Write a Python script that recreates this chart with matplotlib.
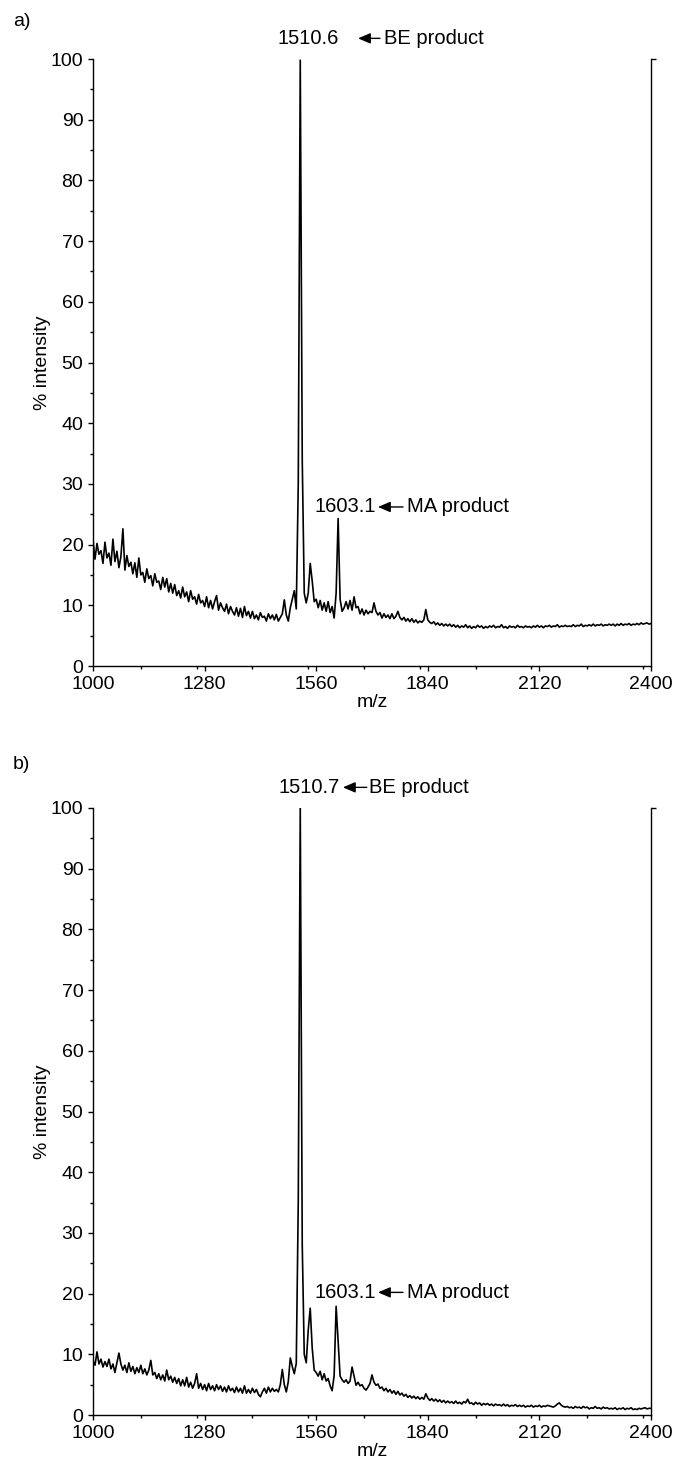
import numpy as np
import matplotlib
matplotlib.use("Agg")
import matplotlib.pyplot as plt
from matplotlib.ticker import MultipleLocator

plt.rcParams['font.family'] = ['Liberation Sans', 'DejaVu Sans']

# m/z sampling grid (5 m/z steps, 1000 .. 2400)
mz = np.arange(1000, 2401, 5)

# spectrum a) - % intensity, one row per 100 m/z
int_a = [
    20.8, 17.6, 20.2, 18.4, 19.0, 16.9, 20.4, 17.8, 18.6, 16.6, 20.9, 17.2, 18.9, 16.2, 18.0, 22.6, 15.8, 18.2, 16.4, 17.1,
    15.2, 17.0, 14.6, 17.8, 15.0, 15.4, 13.8, 16.0, 14.4, 14.9, 13.2, 15.2, 13.8, 14.0, 12.6, 14.6, 13.0, 14.4, 12.2, 13.6,
    12.0, 13.4, 11.6, 12.4, 11.2, 13.0, 11.4, 12.2, 10.6, 12.4, 11.0, 11.4, 10.2, 11.8, 10.4, 10.8, 9.8, 11.4, 9.6, 10.8,
    9.4, 10.6, 11.6, 9.2, 10.4, 9.6, 9.0, 10.2, 8.6, 9.8, 9.0, 8.4, 9.6, 8.2, 9.5, 8.0, 9.8, 8.3, 9.0, 7.9,
    9.0, 7.8, 8.4, 7.6, 8.8, 8.0, 8.2, 7.4, 8.6, 7.8, 8.4, 7.6, 8.5, 7.4, 8.0, 8.6, 10.9, 8.4, 7.4, 9.6,
    11.0, 12.4, 9.4, 30.0, 99.8, 34.0, 12.0, 10.4, 12.0, 16.9, 14.0, 10.6, 11.0, 9.6, 10.8, 9.2, 10.4, 9.0, 10.6, 8.8,
    9.8, 7.9, 12.0, 24.3, 11.0, 9.0, 9.6, 10.6, 9.4, 10.8, 9.2, 11.4, 9.6, 9.8, 8.6, 9.4, 8.4, 9.2, 8.6, 9.0,
    8.8, 10.4, 9.0, 8.4, 8.8, 7.9, 8.6, 8.0, 8.4, 7.8, 8.6, 7.8, 8.2, 9.0, 8.0, 7.6, 8.0, 7.4, 7.8, 7.3,
    7.8, 7.2, 7.6, 7.1, 7.4, 7.2, 7.6, 9.3, 7.6, 7.2, 7.0, 7.3, 6.8, 7.1, 6.7, 7.0, 6.6, 6.9, 6.6, 6.9,
    6.5, 6.8, 6.4, 6.7, 6.3, 6.6, 6.4, 6.8, 6.3, 6.6, 6.2, 6.5, 6.3, 6.7, 6.4, 6.6, 6.2, 6.5, 6.3, 6.6,
    6.4, 6.7, 6.3, 6.5, 6.4, 6.8, 6.3, 6.5, 6.2, 6.6, 6.4, 6.5, 6.3, 6.7, 6.4, 6.5, 6.3, 6.6, 6.4, 6.5,
    6.3, 6.6, 6.4, 6.7, 6.4, 6.6, 6.3, 6.6, 6.5, 6.7, 6.4, 6.6, 6.5, 6.8, 6.4, 6.6, 6.5, 6.7, 6.5, 6.6,
    6.5, 6.8, 6.5, 6.7, 6.6, 6.9, 6.5, 6.7, 6.6, 6.8, 6.6, 6.9, 6.6, 6.8, 6.7, 6.9, 6.6, 6.8, 6.7, 6.9,
    6.7, 6.9, 6.6, 6.9, 6.7, 7.0, 6.7, 6.9, 6.8, 7.0, 6.7, 6.9, 6.8, 7.0, 6.8, 7.1, 6.9, 7.0, 7.1, 6.9, 7.0,
]

# spectrum b)
int_b = [
    9.0, 8.2, 10.4, 8.4, 9.2, 7.9, 8.8, 8.0, 9.2, 7.6, 8.4, 7.0, 8.6, 10.2, 8.4, 7.4, 8.2, 7.0, 8.6, 7.2,
    8.0, 6.8, 7.8, 7.0, 8.2, 6.8, 7.6, 6.6, 7.4, 9.0, 6.6, 7.0, 6.0, 6.8, 5.8, 6.6, 5.6, 7.4, 5.8, 6.4,
    5.4, 6.2, 5.2, 6.0, 4.8, 5.8, 4.8, 6.2, 4.6, 5.4, 4.4, 5.2, 6.8, 4.4, 5.2, 4.2, 5.0, 4.0, 5.2, 4.2,
    4.8, 4.0, 5.0, 4.2, 4.8, 3.9, 4.6, 3.8, 4.8, 4.0, 4.4, 3.7, 4.6, 3.8, 4.4, 3.6, 4.8, 3.6, 4.2, 3.6,
    4.4, 3.7, 4.2, 3.4, 3.0, 3.8, 4.4, 3.6, 4.6, 3.8, 4.4, 3.9, 4.2, 3.8, 5.0, 7.5, 5.0, 3.8, 5.5, 9.4,
    8.0, 6.8, 8.5, 35.0, 100.0, 28.0, 10.0, 8.6, 14.0, 17.6, 11.0, 7.4, 7.0, 6.4, 7.2, 5.8, 6.8, 5.6, 6.0, 4.8,
    4.0, 6.5, 17.9, 12.0, 6.4, 5.8, 5.4, 5.8, 5.2, 5.6, 7.9, 6.4, 4.9, 5.4, 4.8, 5.0, 4.4, 4.1, 4.6, 5.2,
    6.6, 5.4, 4.9, 5.1, 4.4, 4.6, 4.0, 4.4, 3.8, 4.2, 3.6, 4.0, 3.4, 3.9, 3.3, 3.6, 3.1, 3.4, 2.9, 3.2,
    2.8, 3.1, 2.7, 3.0, 2.6, 2.9, 2.6, 3.5, 2.8, 2.4, 2.7, 2.3, 2.6, 2.2, 2.5, 2.1, 2.4, 2.0, 2.3, 2.0,
    2.2, 1.9, 2.3, 1.9, 2.1, 1.8, 2.2, 2.0, 2.6, 1.9, 2.0, 1.7, 2.1, 1.8, 2.0, 1.6, 1.9, 1.7, 1.9, 1.6,
    1.8, 1.5, 1.8, 1.6, 1.7, 1.5, 1.8, 1.5, 1.7, 1.4, 1.6, 1.5, 1.7, 1.4, 1.6, 1.4, 1.6, 1.3, 1.5, 1.4,
    1.6, 1.3, 1.5, 1.4, 1.6, 1.3, 1.5, 1.4, 1.6, 1.5, 1.4, 1.3, 1.5, 1.8, 2.0, 1.6, 1.4, 1.3, 1.4, 1.2,
    1.3, 1.1, 1.4, 1.2, 1.3, 1.1, 1.4, 1.2, 1.3, 1.0, 1.2, 1.1, 1.4, 1.1, 1.2, 1.0, 1.3, 1.1, 1.2, 1.0,
    1.1, 1.0, 1.2, 0.9, 1.1, 1.0, 1.2, 0.9, 1.1, 1.0, 1.2, 0.9, 1.0, 0.9, 1.1, 1.0, 1.1, 1.2, 1.0, 1.1, 1.1,
]

xticks = [1000, 1280, 1560, 1840, 2120, 2400]
peak_labels_a = ["1510.6", "1603.1"]
peak_labels_b = ["1510.7", "1603.1"]

FS = 14
FS_ANN = 14.5
W, H = 684, 1469

fig = plt.figure(figsize=(W / 100, H / 100), dpi=100)


def px_axes(left, right, top, bottom):
    return fig.add_axes([left / W, 1 - bottom / H, (right - left) / W, (bottom - top) / H])


ARROW = dict(arrowstyle='-|>,head_length=0.75,head_width=0.32',
             color='black', lw=1.0, shrinkA=0, shrinkB=0)


def draw_panel(ax, y, labels, be_pos, ma_pos):
    ax.plot(mz, y, color='black', lw=1.2)
    ax.set_xlim(1000, 2400)
    ax.set_ylim(0, 100)
    ax.set_xticks(xticks)
    ax.xaxis.set_minor_locator(MultipleLocator(140))
    ax.yaxis.set_major_locator(MultipleLocator(10))
    ax.yaxis.set_minor_locator(MultipleLocator(5))
    ax.tick_params(which='both', direction='out', labelsize=FS, width=1.0)
    ax.tick_params(which='major', length=3.5)
    ax.tick_params(which='minor', length=2.5)
    ax.spines['top'].set_visible(False)
    ax.spines['right'].set_visible(False)
    for s in ('left', 'bottom'):
        ax.spines[s].set_linewidth(1.0)
    sec = ax.secondary_yaxis('right')
    sec.set_yticks([100])
    sec.set_yticklabels([])
    sec.tick_params(direction='out', length=3.5, width=1.0)
    sec.spines['right'].set_linewidth(1.0)
    ax.set_xlabel('m/z', fontsize=FS, labelpad=1)
    ax.set_ylabel('% intensity', fontsize=FS, labelpad=0)

    # BE product label
    bx_num, bx_tip, bx_tail, bx_txt, by = be_pos
    ax.text(bx_num, by, labels[0], ha='center', va='center', fontsize=FS_ANN, clip_on=False)
    ax.annotate('', xy=(bx_tip, by), xytext=(bx_tail, by), annotation_clip=False, arrowprops=ARROW)
    ax.text(bx_txt, by, 'BE product', ha='left', va='center', fontsize=FS_ANN, clip_on=False)

    # MA product label
    mx_num, mx_tip, mx_tail, mx_txt, my = ma_pos
    ax.text(mx_num, my, labels[1], ha='center', va='center', fontsize=FS_ANN)
    ax.annotate('', xy=(mx_tip, my), xytext=(mx_tail, my), arrowprops=ARROW)
    ax.text(mx_txt, my, 'MA product', ha='left', va='center', fontsize=FS_ANN)


ax_a = px_axes(93, 651, 59, 666)
draw_panel(ax_a, int_a, peak_labels_a,
           (1539, 1665, 1720, 1730, 103.4),
           (1632, 1715, 1778, 1788, 26.2))
fig.text(13 / W, 1 - 22 / H, 'a)', fontsize=FS, ha='left', va='center')

ax_b = px_axes(93, 651, 808, 1415)
draw_panel(ax_b, int_b, peak_labels_b,
           (1543, 1627, 1687, 1692, 103.4),
           (1632, 1715, 1778, 1788, 20.2))
fig.text(13 / W, 1 - 765 / H, 'b)', fontsize=FS, ha='left', va='center')

fig.savefig('out.png', dpi=100)
